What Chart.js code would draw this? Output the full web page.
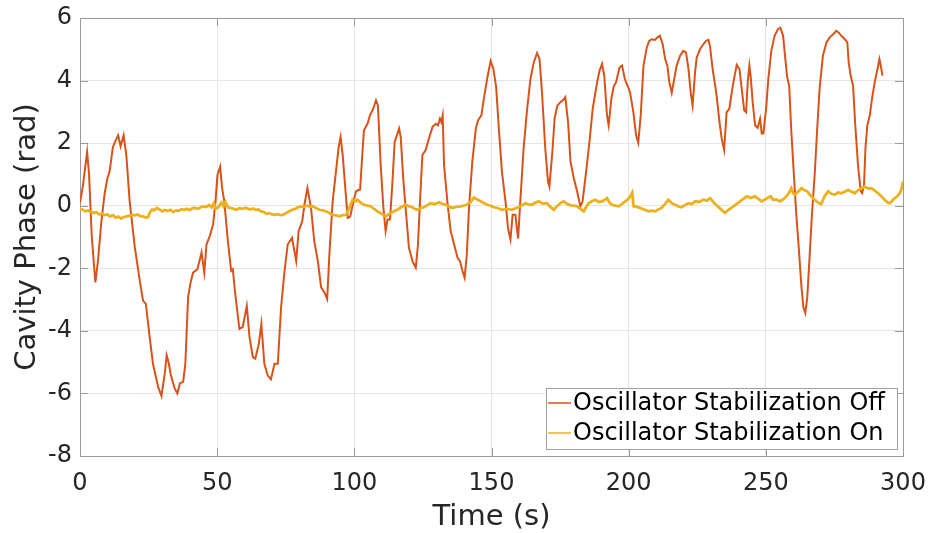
<!DOCTYPE html>
<html>
<head>
<meta charset="utf-8">
<script src="https://cdn.jsdelivr.net/npm/chart.js@4/dist/chart.umd.min.js"></script>
<style>
  html, body { margin: 0; padding: 0; background: #fff; }
  #wrap { width: 932px; height: 533px; }
</style>
</head>
<body>
<div id="wrap"><canvas id="c" width="932" height="533"></canvas></div>
<script>
// Cavity phase vs time, oscillator stabilization off / on
const seriesNames = ['Oscillator Stabilization Off', 'Oscillator Stabilization On'];
const xTicks = [0, 50, 100, 150, 200, 250, 300];
const yTicks = [-8, -6, -4, -2, 0, 2, 4, 6];

// Stabilization off: time (s) and phase (rad)
const timeOff = [0,1,2,2.6,3.3,4.3,5.6,6.5,7.8,9,10,10.8,12,12.8,13.9,14.8,15.9,16.9,18.1,20,21.8,23,24,25.4,26.6,28.5,29.7,30.9,31.6,32.4,33.1,34.5,35.5,36.4,37.6,38.4,39.4,40.2,41.2,42.8,44.3,45.3,46.1,47.3,48.5,49.4,50.1,51.1,51.8,52.6,53.9,55.1,55.7,56.6,58.1,59.3,60.8,61.8,63,63.9,65.2,66.1,67.2,68.4,69.6,70.9,72.1,73.3,74.5,75.7,77.3,78.8,79.7,81,81.8,82.9,84.2,85.4,86.7,87.9,89.1,90.1,90.9,92.1,93.3,94.3,95,95.8,96.7,97.6,98.5,99.4,100.6,101.5,102.1,102.9,103.5,104.8,105.7,106.9,107.9,108.6,109.6,110.6,111.4,112.1,113,113.9,114.7,115.5,116.3,116.9,117.9,119.1,119.9,121.2,122.4,123.2,124,124.8,126,127.2,128.5,129.7,130.5,131.2,131.7,132.2,132.7,133.9,135.1,136.4,137.6,138.5,139.4,140.2,141,141.8,143,144.3,145.1,146.3,147.3,148.5,149.7,150.7,151.7,152.6,153.8,155.1,156,156.9,157.7,158.7,159.7,160.5,161.7,163,164.2,165.4,166.6,167.5,168.4,169.6,170.6,171.1,172.1,173,174,175.1,176,176.9,177.9,178.8,180,181.2,182.4,183.2,184.5,185.7,186.9,188.5,189.4,190.3,191.1,192.1,192.7,193.7,194.5,195.4,196.1,196.7,197.6,198.6,199.8,200.5,201.7,202.7,203.5,204.4,205.4,206.6,207.5,208.4,209.6,210.5,211.4,212.4,213.3,214.1,214.8,215.7,216.5,217.5,218.7,219.9,220.9,221.8,222.6,223.3,224.2,224.8,226,227.2,228.2,229.1,229.7,230.6,231.9,233.1,233.9,234.8,235.7,236.7,237.6,238.4,239.4,240.4,241.2,242.1,242.8,243.4,244,244.5,245.2,246.1,247,247.9,248.5,249.1,250.1,250.9,252,253.2,254.4,255.3,256.3,257.1,257.8,258.5,259.3,260.3,261.1,262,263,263.7,264.4,265.1,266,266.8,267.8,268.8,269.6,270.8,272.1,273.3,274.5,275.7,276.6,277.5,278.8,279.7,280.2,280.9,281.8,282.6,283.6,284.6,285.1,285.8,286.3,287,287.9,288.7,289.7,290.7,291.4,291.9,292.5];
const phaseOff = [0.1,0.6,1.3,1.72,1.0,-1.0,-2.45,-1.8,-0.5,0.4,0.88,1.1,1.88,2.05,2.25,1.9,2.25,1.6,0.14,-1.34,-2.4,-3.04,-3.14,-4.2,-5.05,-5.8,-6.08,-5.36,-4.78,-5.05,-5.4,-5.84,-6.0,-5.68,-5.63,-5.05,-2.93,-2.5,-2.14,-2.03,-1.5,-2.14,-1.24,-0.97,-0.6,0.14,0.98,1.25,0.56,0.14,-1.13,-2.08,-2.03,-2.83,-3.94,-3.88,-3.2,-4.2,-4.84,-4.89,-4.41,-3.78,-5.05,-5.42,-5.55,-5.05,-5.05,-3.25,-2.14,-1.24,-1.03,-1.77,-0.81,-0.5,0.03,0.56,-0.07,-1.13,-1.77,-2.61,-2.77,-2.98,-1.56,0.14,1.09,1.88,2.2,1.57,0.56,-0.39,-0.35,0.03,0.46,0.5,0.51,1.62,2.41,2.62,2.89,3.1,3.37,3.2,1.3,-0.07,-0.81,-0.44,-0.44,0.77,2.04,2.25,2.47,2.2,0.77,-0.5,-1.34,-1.77,-1.98,-1.24,0.24,1.62,1.78,2.15,2.52,2.62,2.57,2.78,2.68,2.89,1.3,0.14,-0.81,-1.24,-1.66,-1.77,-2.08,-2.3,-1.56,-0.07,1.41,2.47,2.73,2.89,3.47,4.1,4.63,4.37,3.79,2.57,1.09,0.14,-0.71,-1.08,-0.29,-0.29,-1.05,0.14,1.83,3.1,4.05,4.58,4.88,4.69,3.63,1.83,0.77,0.61,1.62,2.78,3.2,3.31,3.37,3.47,2.68,1.41,0.88,0.46,-0.02,0.14,1.09,2.04,3.1,3.95,4.32,4.53,4.16,2.89,2.57,3.42,3.79,3.95,4.21,4.42,4.48,4.05,3.79,3.63,2.99,2.25,2.01,2.89,4.48,5.06,5.27,5.32,5.3,5.38,5.43,5.16,4.69,4.48,3.95,3.61,4.0,4.48,4.79,4.95,4.9,4.37,3.63,3.2,4.26,4.74,5.0,5.16,5.27,5.3,5.06,4.37,3.63,2.68,2.15,1.78,2.99,3.1,3.63,4.05,4.5,4.37,3.74,3.05,2.99,3.95,4.48,4.1,3.31,2.57,2.49,2.78,2.31,2.31,3.1,4.05,4.95,5.43,5.64,5.69,5.43,4.69,4.1,3.84,2.36,0.88,-0.29,-1.34,-2.61,-3.25,-3.43,-2.93,-1.56,-0.29,0.98,2.57,3.74,4.79,5.22,5.38,5.48,5.59,5.53,5.43,5.32,5.22,4.58,4.16,3.84,2.57,1.3,0.46,0.4,0.67,1.83,2.57,2.89,3.42,3.95,4.37,4.69,4.48,4.16];

// Stabilization on: time (s) and phase (rad)
const timeOn = [0,1,2,3,4,5,6,7,8,9,10,11,12,13,14,15,16,17,18,19,20,21,22,23,24,24.8,25.6,26.3,27,28,29,30,31,32,33,34,35,36,37,38,39,40,41,42,43,44,45,46,47,48,48.8,49.5,50.5,51.5,52.3,53,54,55,56,57,58,59,60.5,62,63,64,65,66,67,68,69,70,71,72,73,74,75,76.3,77.5,78.5,79.4,80.5,81.8,83,84,84.8,86,87.3,88.5,89.7,91,92.1,93.3,94.6,95.8,97,98.2,99.4,100.6,101.1,102.3,103.5,104.8,106,107.2,108.4,109.8,111.4,112.4,113.3,114.5,115.7,117,118.7,120,121.2,122,123,124.2,125.4,126.6,127.8,129.3,130.9,132.1,133.3,134.5,135.7,137.2,138.8,140,141.2,142.4,143.6,144.8,146.1,147.3,148.5,149.7,150.9,152.4,153.8,155.6,157.5,158.7,159.9,161.2,162.4,163.6,164.8,166,167.2,168.6,170.2,171.4,172.7,173.6,174.5,175.4,176.3,177.5,178.8,180,181.2,182.4,183.6,184.5,185.4,186.6,187.9,189,190.3,191.2,192.1,193,193.9,195.2,196.4,197.6,198.8,199.7,200.6,201.3,201.8,202.5,204.1,205.6,207.2,208.4,209.6,210.8,212,213.2,214.5,215.7,216.9,218.1,219.3,220.5,221.8,223,224.2,225.7,227.2,228.5,229.7,231,232.1,233.5,235.1,236.6,238.2,239.4,240.6,241.8,243,244.5,246.1,247.3,248.5,249.7,250.9,251.8,252.6,253.8,255.1,256.3,257.5,258.4,259.3,260,260.5,261.8,263,264,265.1,266.5,267.8,269,270.2,271.4,272.7,273.9,275.1,276.3,277.5,278.8,280,281.2,282.4,283.6,284.8,286,287.3,288.5,289.7,290.9,292.1,293.3,294.2,295.1,296,296.9,297.9,298.8,299.5,300];
const phaseOn = [-0.1,-0.13,-0.18,-0.15,-0.2,-0.23,-0.2,-0.28,-0.25,-0.3,-0.28,-0.34,-0.3,-0.38,-0.35,-0.41,-0.36,-0.34,-0.32,-0.29,-0.31,-0.28,-0.33,-0.34,-0.38,-0.36,-0.2,-0.12,-0.15,-0.07,-0.12,-0.18,-0.14,-0.17,-0.13,-0.2,-0.15,-0.16,-0.11,-0.13,-0.1,-0.14,-0.08,-0.07,-0.1,-0.05,-0.02,-0.04,0.02,-0.05,0.08,-0.1,-0.04,0.1,-0.02,0.12,-0.05,-0.08,-0.1,-0.13,-0.08,-0.1,-0.07,-0.12,-0.09,-0.13,-0.12,-0.18,-0.2,-0.26,-0.24,-0.28,-0.29,-0.27,-0.3,-0.29,-0.24,-0.18,-0.12,-0.1,-0.05,-0.03,-0.02,0.0,-0.04,-0.02,-0.07,-0.13,-0.15,-0.18,-0.24,-0.29,-0.31,-0.34,-0.3,-0.29,-0.07,0.19,0.14,0.19,0.1,0.03,0.0,-0.02,-0.1,-0.18,-0.25,-0.34,-0.28,-0.23,-0.18,-0.13,-0.05,0.03,-0.02,-0.05,-0.1,-0.13,-0.08,-0.05,0.02,0.08,0.05,0.11,0.06,0.03,-0.03,-0.07,-0.04,-0.02,0.0,0.05,0.12,0.26,0.2,0.14,0.08,0.03,0.0,-0.05,-0.08,-0.13,-0.1,-0.13,-0.08,-0.05,0.02,0.08,0.04,0.03,0.1,0.14,0.07,0.08,-0.03,-0.13,-0.04,0.03,0.1,0.14,0.06,0.01,0.0,-0.02,-0.1,-0.18,-0.04,0.08,0.14,0.19,0.12,0.14,0.18,0.24,0.1,0.03,0.0,-0.02,0.06,0.14,0.2,0.3,0.42,-0.02,-0.02,-0.07,-0.12,-0.18,-0.16,-0.18,-0.12,-0.07,0.05,0.19,0.08,0.03,-0.02,-0.05,0.02,0.08,0.05,0.14,0.12,0.19,0.16,0.24,0.1,0.01,-0.1,-0.23,-0.12,-0.02,0.06,0.14,0.22,0.3,0.25,0.3,0.22,0.14,0.2,0.26,0.3,0.19,0.2,0.14,0.2,0.3,0.4,0.56,0.4,0.35,0.45,0.56,0.5,0.46,0.3,0.19,0.1,0.05,0.3,0.46,0.38,0.35,0.42,0.4,0.45,0.51,0.45,0.4,0.5,0.55,0.61,0.55,0.56,0.48,0.4,0.3,0.19,0.12,0.08,0.15,0.24,0.3,0.4,0.55,0.77];

const colorOff = '#D95319';
const colorOn = '#EDB120';
const textColor = '#262626';
const fontFamily = '"DejaVu Sans", sans-serif';

const toPoints = (xs, ys) => xs.map((x, i) => ({ x: x, y: ys[i] }));

// Box around the plot area, inward tick marks on all four sides
const boxPlugin = {
  id: 'matlabBox',
  beforeDatasetsDraw(chart) {
    const { ctx, chartArea: a, scales } = chart;
    ctx.save();
    ctx.strokeStyle = '#9a9a9a';
    ctx.lineWidth = 1;
    const tl = 8;
    ctx.beginPath();
    xTicks.forEach(v => {
      const px = Math.round(scales.x.getPixelForValue(v)) + 0.5;
      ctx.moveTo(px, a.bottom); ctx.lineTo(px, a.bottom - tl);
      ctx.moveTo(px, a.top); ctx.lineTo(px, a.top + tl);
    });
    yTicks.forEach(v => {
      const py = Math.round(scales.y.getPixelForValue(v)) + 0.5;
      ctx.moveTo(a.left, py); ctx.lineTo(a.left + tl, py);
      ctx.moveTo(a.right, py); ctx.lineTo(a.right - tl, py);
    });
    ctx.stroke();
    ctx.strokeRect(Math.round(a.left) + 0.5, Math.round(a.top) + 0.5,
                   Math.round(a.right - a.left), Math.round(a.bottom - a.top));
    ctx.restore();
  }
};

// Legend box in the lower right corner of the plot area
const legendPlugin = {
  id: 'insideLegend',
  afterDraw(chart) {
    const { ctx, chartArea: a } = chart;
    const boxW = 351, boxH = 61;
    const x0 = a.right - 6 - boxW, y0 = a.bottom - 7 - boxH;
    ctx.save();
    ctx.fillStyle = '#ffffff';
    ctx.fillRect(x0, y0, boxW, boxH);
    ctx.strokeStyle = '#a0a0a0';
    ctx.lineWidth = 1;
    ctx.strokeRect(Math.round(x0) + 0.5, Math.round(y0) + 0.5, boxW, boxH);
    ctx.font = '24px ' + fontFamily;
    ctx.textBaseline = 'middle';
    ctx.textAlign = 'left';
    chart.data.datasets.forEach((ds, i) => {
      const cy = y0 + 15 + i * 30;
      ctx.strokeStyle = ds.borderColor;
      ctx.lineWidth = 1.5;
      ctx.beginPath();
      ctx.moveTo(x0 + 2, cy); ctx.lineTo(x0 + 25, cy);
      ctx.stroke();
      ctx.fillStyle = '#000000';
      ctx.fillText(ds.label, x0 + 27, cy + 1);
    });
    ctx.restore();
  }
};

new Chart(document.getElementById('c'), {
  type: 'scatter',
  data: {
    datasets: [
      {
        label: seriesNames[0],
        data: toPoints(timeOff, phaseOff),
        showLine: true,
        borderColor: colorOff,
        backgroundColor: colorOff,
        borderWidth: 2,
        pointRadius: 0,
        tension: 0,
        order: 1
      },
      {
        label: seriesNames[1],
        data: toPoints(timeOn, phaseOn),
        showLine: true,
        borderColor: colorOn,
        backgroundColor: colorOn,
        borderWidth: 2.8,
        pointRadius: 0,
        tension: 0,
        order: 0
      }
    ]
  },
  options: {
    responsive: false,
    animation: false,
    devicePixelRatio: 1,
    layout: { padding: { top: 18, right: 29, left: 0, bottom: 0 } },
    plugins: {
      legend: { display: false },
      tooltip: { enabled: false }
    },
    scales: {
      x: {
        type: 'linear',
        min: 0, max: 300,
        afterBuildTicks(scale) { scale.ticks = xTicks.map(v => ({ value: v })); },
        afterFit(scale) {
          scale.height = 77;
          scale.paddingLeft = 0;
          scale.paddingRight = 0;
        },
        grid: { color: '#e6e6e6', drawTicks: false },
        border: { display: false },
        ticks: {
          color: textColor,
          font: { family: fontFamily, size: 24 },
          padding: 13,
          maxRotation: 0
        },
        title: {
          display: true,
          text: 'Time (s)',
          color: textColor,
          font: { family: fontFamily, size: 29 },
          padding: { top: 0, bottom: -2 }
        }
      },
      y: {
        type: 'linear',
        min: -8, max: 6,
        afterBuildTicks(scale) { scale.ticks = yTicks.map(v => ({ value: v })); },
        afterFit(scale) {
          scale.width = 80;
          scale.paddingTop = 0;
          scale.paddingBottom = 0;
        },
        grid: { color: '#e6e6e6', drawTicks: false },
        border: { display: false },
        ticks: {
          color: textColor,
          font: { family: fontFamily, size: 24 },
          padding: 8
        },
        title: {
          display: true,
          text: 'Cavity Phase (rad)',
          color: textColor,
          font: { family: fontFamily, size: 29 },
          padding: { top: 10, bottom: 0 }
        }
      }
    }
  },
  plugins: [boxPlugin, legendPlugin]
});
</script>
</body>
</html>
